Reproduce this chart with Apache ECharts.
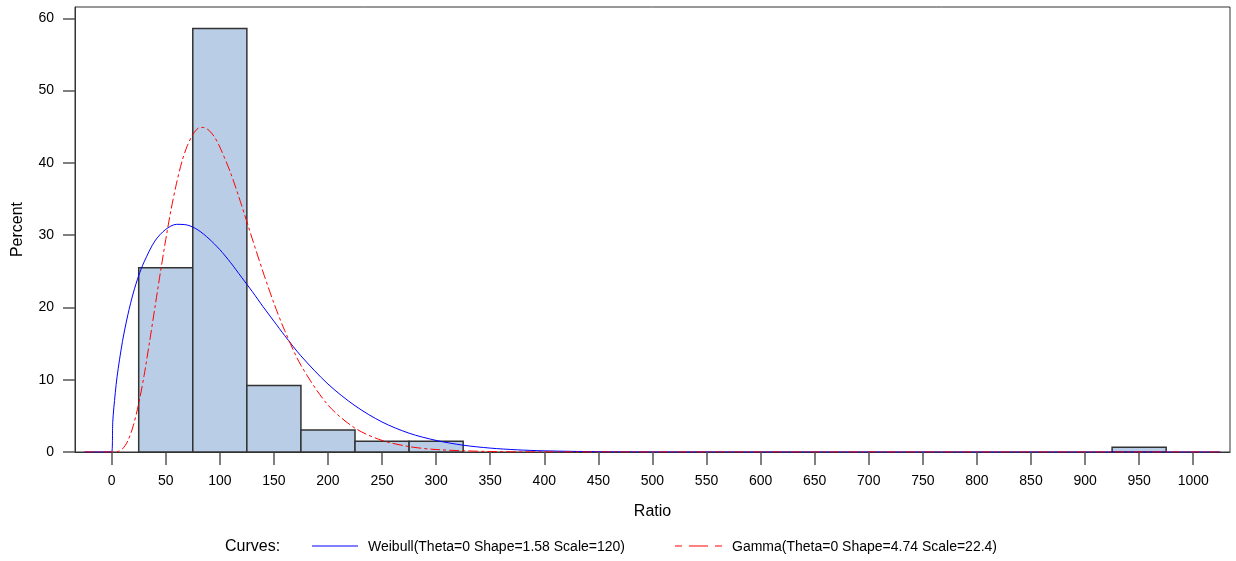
<!DOCTYPE html>
<html>
<head>
<meta charset="utf-8">
<script src="https://cdn.jsdelivr.net/npm/echarts@6/dist/echarts.min.js"></script>
<style>
html,body{margin:0;padding:0;background:#fff;}
#c{width:1236px;height:561px;}
</style>
</head>
<body>
<div id="c"></div>
<script>
// Histogram bins (Ratio) and percent heights
var binStart = [25, 75, 125, 175, 225, 275, 925];
var binEnd   = [75, 125, 175, 225, 275, 325, 975];
var binPct   = [25.5, 58.6, 9.2, 3.05, 1.5, 1.5, 0.65];

// Weibull fitted curve
var weibX = [-25, 0, 1, 2, 5, 10, 15, 20, 25, 30, 40, 50, 60, 70, 80, 90, 100, 110, 120, 130, 140, 150, 160, 175, 200, 225, 250, 275, 300, 325, 350, 375, 400, 450, 500, 1025];
var weibY = [0, 0, 4.1, 6.1, 10.4, 15.3, 19.0, 22.0, 24.4, 26.3, 29.2, 30.8, 31.5, 31.4, 30.7, 29.5, 28.0, 26.2, 24.2, 22.2, 20.1, 18.1, 16.1, 13.3, 9.4, 6.4, 4.15, 2.6, 1.6, 0.94, 0.54, 0.3, 0.16, 0.04, 0.01, 0];

// Gamma fitted curve
var gamX = [-25, 0, 5, 10, 15, 20, 25, 30, 35, 40, 45, 50, 55, 60, 65, 70, 75, 80, 85, 90, 95, 100, 110, 120, 130, 140, 150, 160, 175, 200, 225, 250, 275, 300, 350, 400, 1025];
var gamY = [0, 0, 0.04, 0.43, 1.56, 3.65, 6.7, 10.6, 15.2, 20.0, 24.8, 29.4, 33.6, 37.2, 40.2, 42.4, 43.9, 44.8, 44.9, 44.5, 43.6, 42.2, 38.6, 34.2, 29.5, 24.9, 20.6, 16.8, 12.0, 6.5, 3.3, 1.6, 0.75, 0.34, 0.065, 0.01, 0];

// Tick labels
var xTicks = [0,50,100,150,200,250,300,350,400,450,500,550,600,650,700,750,800,850,900,950,1000];
var yTicks = [0,10,20,30,40,50,60];

var weibName = 'Weibull(Theta=0 Shape=1.58 Scale=120)';
var gamName = 'Gamma(Theta=0 Shape=4.74 Scale=22.4)';

var FONT = 'Liberation Sans, Arial, sans-serif';

var bars = binStart.map(function(s, i){ return [s, binEnd[i], binPct[i]]; });
var weib = weibX.map(function(x, i){ return [x, weibY[i]]; });
var gam = gamX.map(function(x, i){ return [x, gamY[i]]; });

var chart = echarts.init(document.getElementById('c'));
chart.setOption({
  animation: false,
  backgroundColor: '#fff',
  grid: {left: 75, right: 6, top: 7, bottom: 109, show: true, borderColor: '#333', borderWidth: 1, backgroundColor: 'transparent'},
  xAxis: {
    type: 'value', min: -33.9, max: 1034,
    name: 'Ratio', nameLocation: 'middle', nameGap: 52,
    nameTextStyle: {fontFamily: FONT, fontSize: 16, color: '#000'},
    axisLine: {show: true, onZero: false, lineStyle: {color: '#333', width: 1}},
    axisTick: {show: true, inside: false, length: 13, customValues: xTicks, lineStyle: {color: '#555', width: 1.5}},
    axisLabel: {customValues: xTicks, fontFamily: FONT, fontSize: 14, color: '#000', margin: 22,
      formatter: function(v){ return String(v); }},
    splitLine: {show: false}
  },
  yAxis: {
    type: 'value', min: 0, max: 61.57,
    name: 'Percent', nameLocation: 'middle', nameGap: 49,
    nameTextStyle: {fontFamily: FONT, fontSize: 16, color: '#000'},
    axisLine: {show: true, onZero: false, lineStyle: {color: '#333', width: 1}},
    axisTick: {show: true, inside: false, length: 12, customValues: yTicks, lineStyle: {color: '#555', width: 1.5}},
    axisLabel: {customValues: yTicks, fontFamily: FONT, fontSize: 14, color: '#000', margin: 21,
      formatter: function(v){ return String(v); }},
    splitLine: {show: false}
  },
  graphic: [
    {type: 'text', left: 225, top: 539, style: {text: 'Curves:', font: '16px ' + FONT, fill: '#000'}},
    {type: 'line', shape: {x1: 312, y1: 546, x2: 358, y2: 546}, style: {stroke: '#0000FF', lineWidth: 1}},
    {type: 'text', left: 368, top: 540, style: {text: weibName, font: '14px ' + FONT, fill: '#000'}},
    {type: 'line', shape: {x1: 675, y1: 546, x2: 722, y2: 546}, style: {stroke: '#FF0000', lineWidth: 1, lineDash: [7, 7, 19, 7]}},
    {type: 'text', left: 732, top: 540, style: {text: gamName, font: '14px ' + FONT, fill: '#000'}}
  ],
  series: [
    {
      type: 'custom', name: 'hist', z: 1,
      renderItem: function(params, api){
        var p0 = api.coord([api.value(0), 0]);
        var p1 = api.coord([api.value(1), api.value(2)]);
        return {type: 'rect', shape: {x: p0[0], y: p1[1], width: p1[0]-p0[0], height: p0[1]-p1[1]},
          style: {fill: '#B9CEE6', stroke: '#333', lineWidth: 1.5}};
      },
      encode: {x: [0, 1], y: 2},
      data: bars
    },
    {
      type: 'line', name: weibName, data: weib, z: 3,
      showSymbol: false, symbol: 'none', smooth: 0.3,
      lineStyle: {color: '#0000FF', width: 1}, itemStyle: {color: '#0000FF'}
    },
    {
      type: 'line', name: gamName, data: gam, z: 4,
      showSymbol: false, symbol: 'none', smooth: 0.3,
      lineStyle: {color: '#FF0000', width: 1, type: [10, 3, 3, 3]}, itemStyle: {color: '#FF0000'}
    }
  ]
});
</script>
</body>
</html>
